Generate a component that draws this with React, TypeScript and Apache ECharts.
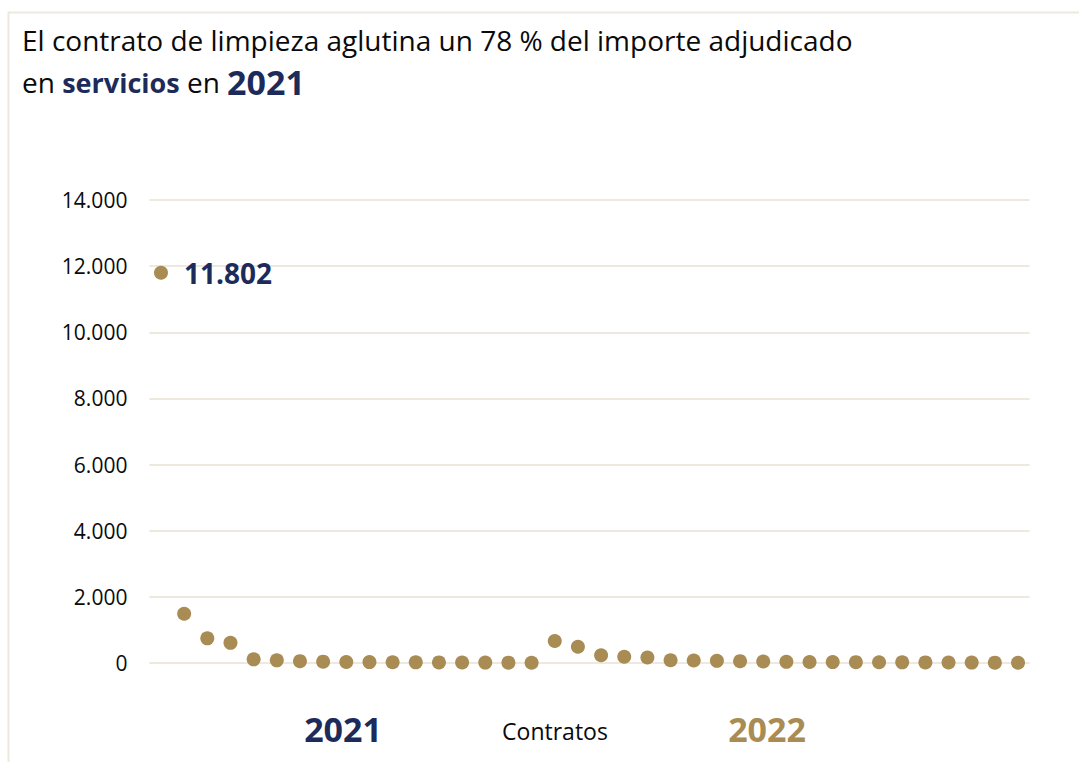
import React, { useEffect, useRef } from "react";
import * as echarts from "echarts";

const values2021: number[] = [11802, 1490, 745, 610, 110, 80, 55, 40, 32, 28, 24, 20, 18, 15, 12, 10, 8];
const values2022: number[] = [665, 490, 235, 190, 165, 85, 75, 65, 55, 45, 35, 30, 28, 25, 22, 20, 18, 15, 12, 10, 8];
const yTicks = { min: 0, max: 14000, interval: 2000 };
const titleLine1 = "El contrato de limpieza aglutina un 78 % del importe adjudicado";
const xName = "Contratos";
const yearLabels = ["2021", "2022"];

const GOLD = "#A98B54";
const NAVY = "#1D2B5B";
const GRID = "#EEE9DE";
const FONT = "'Open Sans', sans-serif";

const fmt = (v: number) => String(Math.round(v)).replace(/\B(?=(\d{3})+(?!\d))/g, ".");

export default function App() {
  const ref = useRef<HTMLDivElement>(null);
  useEffect(() => {
    if (!ref.current) return;
    const chart = echarts.init(ref.current, undefined, { renderer: "svg" });
    const all = [...values2021, ...values2022];
    const categories = all.map((_, i) => String(i + 1));
    chart.setOption({
      animation: false,
      backgroundColor: "#ffffff",
      textStyle: { fontFamily: FONT },
      title: [
        {
          text: titleLine1,
          left: 22,
          top: 26,
          padding: 0,
          textStyle: { fontFamily: FONT, fontSize: 28, fontWeight: "normal", color: "#0a0a0a" },
        },
        {
          text: "{n|en }{b|servicios}{n| en }{y|2021}",
          left: 22,
          top: 65,
          padding: 0,
          textStyle: {
            fontFamily: FONT,
            fontWeight: "normal",
            rich: {
              n: { fontFamily: FONT, fontSize: 28, fontWeight: "normal", color: "#0a0a0a" },
              b: { fontFamily: FONT, fontSize: 27, fontWeight: "bold", color: NAVY },
              y: { fontFamily: FONT, fontSize: 34, fontWeight: "bold", color: NAVY },
            },
          },
        },
      ],
      graphic: [
        {
          type: "rect",
          shape: { x: 8.5, y: 12.5, width: 1200, height: 900 },
          style: { fill: "none", stroke: GRID, lineWidth: 2 },
          silent: true,
        },
        {
          type: "text",
          x: 343,
          y: 729,
          style: {
            text: yearLabels[0],
            fontFamily: FONT,
            fontSize: 34,
            fontWeight: "bold",
            fill: NAVY,
            align: "center",
            verticalAlign: "middle",
          },
        },
        {
          type: "text",
          x: 555,
          y: 731,
          style: {
            text: xName,
            fontFamily: FONT,
            fontSize: 23,
            fill: "#0a0a0a",
            align: "center",
            verticalAlign: "middle",
          },
        },
        {
          type: "text",
          x: 767,
          y: 729,
          style: {
            text: yearLabels[1],
            fontFamily: FONT,
            fontSize: 34,
            fontWeight: "bold",
            fill: GOLD,
            align: "center",
            verticalAlign: "middle",
          },
        },
      ],
      grid: { left: 149.4, right: 49.4, top: 200, bottom: 99, containLabel: false },
      xAxis: {
        type: "category",
        data: categories,
        boundaryGap: true,
        axisLine: { show: false },
        axisTick: { show: false },
        axisLabel: { show: false },
        splitLine: { show: false },
      },
      yAxis: {
        type: "value",
        min: yTicks.min,
        max: yTicks.max,
        interval: yTicks.interval,
        axisLine: { show: false },
        axisTick: { show: false },
        axisLabel: {
          margin: 22,
          fontFamily: FONT,
          fontSize: 21,
          color: "#0a0a0a",
          formatter: (v: number) => fmt(v),
        },
        splitLine: { lineStyle: { color: GRID, width: 2 } },
      },
      series: [
        {
          type: "scatter",
          symbol: "circle",
          symbolSize: 14,
          itemStyle: { color: GOLD, opacity: 1 },
          data: all.map((v, i) =>
            i === 0
              ? {
                  value: v,
                  label: {
                    show: true,
                    position: "right",
                    distance: 16,
                    formatter: (p: any) => fmt(p.value),
                    fontFamily: FONT,
                    fontSize: 28,
                    fontWeight: "bold",
                    color: NAVY,
                  },
                }
              : v
          ),
        },
      ],
    });
    return () => chart.dispose();
  }, []);
  return (
    <div
      ref={ref}
      style={{ position: "fixed", left: 0, top: 0, width: 1079, height: 762 }}
    />
  );
}
